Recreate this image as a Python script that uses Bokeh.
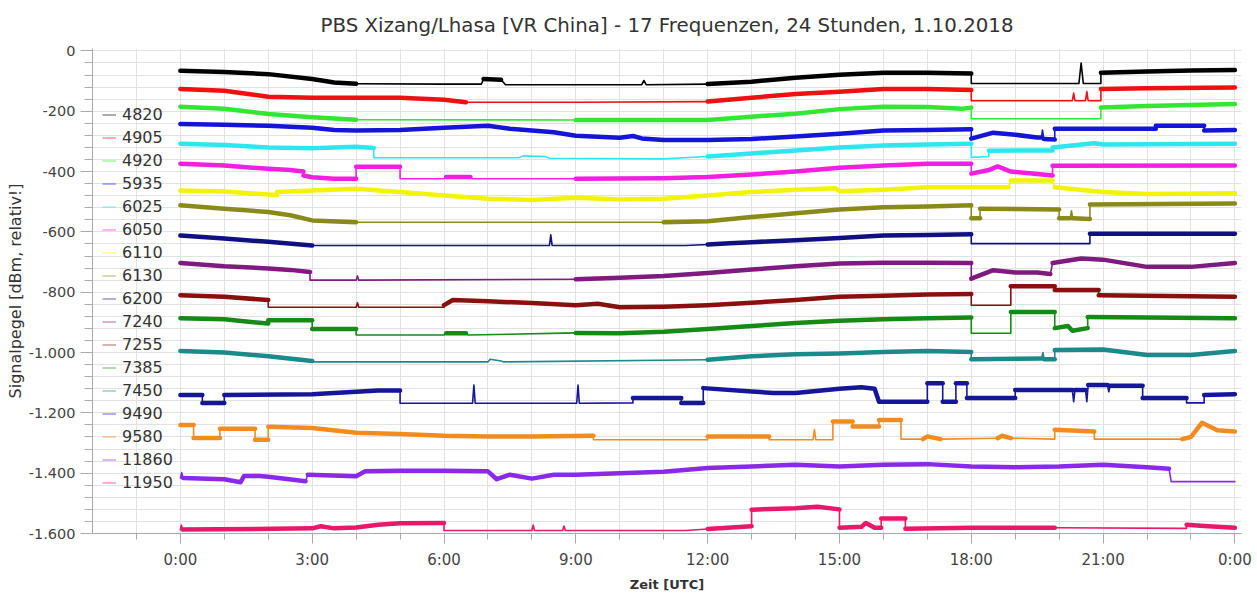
from bokeh.plotting import figure
from bokeh.models import Range1d, FixedTicker, Legend, LegendItem, ColumnDataSource
from bokeh.embed import file_html
from bokeh.resources import INLINE

# ---------------- data (hours UTC, relative dBm) ----------------
FREQS = ["4820", "4905", "4920", "5935", "6025", "6050", "6110", "6130", "6200",
         "7240", "7255", "7385", "7450", "9490", "9580", "11860", "11950"]

P_4820 = [(0,-66),(1,-70),(2,-77),(3,-93),(3.5,-105),(4,-109),(6,-110),(6.85,-110),(6.9,-93),(7.3,-96),(7.4,-112),
          (10.5,-112),(10.55,-98),(10.6,-112),(12,-110),(13,-102),(14,-89),(15,-79),(16,-72),(17,-72),(18,-75),
          (18,-108),(20.45,-108),(20.5,-40),(20.55,-108),(20.95,-108),(20.95,-72),(22,-68),(23,-65),(24,-63)]
W_4820 = [(5,6.9),(7.3,12),(18,20.95)]

P_4905 = [(0,-126),(1,-132),(1.5,-142),(2,-152),(3,-155),(5,-155),(6,-162),(6.5,-170),(9,-170),(12,-168),(13,-155),
          (14,-143),(15,-135),(16,-126),(17,-126),(18,-130),(18,-165),(20.3,-165),(20.33,-140),(20.36,-165),
          (20.6,-165),(20.63,-135),(20.66,-165),(20.95,-165),(20.95,-126),(22,-124),(24,-121)]
W_4905 = [(6.5,11.5),(18,20.95)]

P_4920 = [(0,-185),(1,-192),(2,-209),(3,-220),(4,-228),(9,-229),(12,-229),(13,-218),(14,-208),(15,-193),(16,-185),
          (17,-186),(17.8,-192),(18,-188),(18,-225),(20.95,-225),(20.95,-188),(22,-183),(24,-176)]
W_4920 = [(4.5,9),(18,20.95)]

P_5935 = [(0,-242),(1,-245),(2,-248),(3,-255),(3.5,-262),(4,-264),(5,-262),(6,-255),(7,-248),(7.5,-258),(8,-264),
          (8.5,-270),(9,-281),(10,-288),(10.3,-282),(10.5,-290),(11,-295),(12,-295),(13,-292),(14,-284),(15,-275),
          (16,-264),(17,-262),(18,-260),(18,-291),(18.5,-271),(19,-278),(19.5,-287),(19.6,-287),(19.62,-262),
          (19.65,-292),(19.9,-294),(19.9,-258),(22.2,-258),(22.2,-248),(23.3,-248),(23.3,-264),(24,-262)]
W_5935 = []

P_6025 = [(0,-308),(1,-312),(2,-320),(3,-323),(4,-318),(4.4,-322),(4.4,-354),(7.7,-354),(7.8,-348),(8.3,-350),
          (8.4,-356),(11,-358),(12,-350),(13,-340),(14,-330),(15,-320),(16,-314),(17,-310),(18,-308),(18,-353),
          (18.4,-350),(18.4,-331),(19.85,-330),(19.85,-320),(20.8,-306),(21,-310),(24,-308)]
W_6025 = [(4.4,12),(18,18.4)]

P_6050 = [(0,-374),(1,-380),(2,-391),(2.5,-395),(2.8,-400),(2.8,-413),(3,-419),(3.5,-424),(4,-424),(4,-384),(5,-384),
          (5,-424),(6,-424),(6.05,-418),(6.6,-418),(6.65,-424),(9,-424),(11,-422),(12,-418),(13,-410),(14,-400),
          (15,-387),(16,-380),(17,-374),(18,-374),(18,-407),(18.4,-395),(18.6,-383),(18.9,-400),(19.5,-408),
          (19.85,-413),(19.85,-381),(24,-380)]
W_6050 = [(5,6.05),(6.6,9.5)]

P_6110 = [(0,-463),(1,-466),(2,-476),(2.2,-478),(2.2,-468),(3,-463),(4,-457),(5,-468),(6,-479),(7,-490),(8,-494),
          (9,-487),(10,-493),(11,-490),(12,-479),(13,-468),(14,-460),(14.9,-455),(15,-465),(16,-460),(17,-452),
          (18,-452),(18.85,-452),(18.9,-430),(19.85,-430),(19.9,-452),(21,-468),(22,-474),(24,-472)]
W_6110 = []

P_6130 = [(0,-512),(1,-523),(2,-534),(2.5,-545),(3,-562),(4,-568),(11,-568),(12,-565),(13,-551),(14,-538),(15,-526),
          (16,-518),(17,-516),(18,-512),(18,-555),(18.2,-555),(18.2,-523),(20,-526),(20,-555),(20.25,-555),
          (20.28,-530),(20.31,-555),(20.7,-557),(20.7,-509),(24,-506)]
W_6130 = [(4,11)]

P_6200 = [(0,-612),(1,-622),(2,-633),(3,-645),(8.4,-645),(8.43,-610),(8.46,-645),(11.5,-645),(12,-642),(12.5,-638),
          (13,-634),(14,-628),(15,-620),(16,-612),(17,-610),(18,-608),(18,-639),(20.7,-639),(20.7,-606),(24,-606)]
W_6200 = [(3,12.2),(18,20.7)]

P_7240 = [(0,-703),(1,-714),(2,-721),(2.5,-726),(2.95,-733),(2.95,-760),(4,-760),(4.03,-746),(4.06,-760),(9,-757),
          (10,-752),(11,-746),(12,-736),(13,-725),(14,-714),(15,-705),(16,-702),(17,-702),(18,-703),(18,-755),
          (18.5,-727),(19,-735),(19.5,-735),(19.8,-740),(19.85,-703),(20.5,-688),(21,-692),(22,-716),(23,-716),(24,-703)]
W_7240 = [(2.95,9)]

P_7255 = [(0,-810),(1,-815),(2,-826),(2,-850),(4,-850),(4.03,-835),(4.06,-850),(6,-850),(6,-843),(6.2,-826),(7,-830),
          (8,-836),(9,-843),(9.5,-838),(10,-850),(11,-848),(12,-843),(13,-835),(14,-826),(15,-815),(16,-812),
          (17,-808),(18,-806),(18,-843),(18.9,-843),(18.9,-780),(19.9,-780),(19.9,-793),(20.9,-793),(20.9,-810),(24,-815)]
W_7255 = [(2,6),(18,18.9)]

P_7385 = [(0,-886),(1,-890),(2,-904),(2,-893),(3,-893),(3,-922),(4,-922),(4,-942),(6,-942),(6.05,-936),(6.5,-936),
          (6.55,-942),(9,-935),(10,-936),(11,-931),(12,-922),(13,-912),(14,-902),(15,-895),(16,-890),(17,-886),
          (18,-884),(18,-936),(18.9,-936),(18.9,-866),(19.9,-866),(19.9,-919),(20.2,-912),(20.3,-928),(20.65,-919),
          (20.65,-882),(24,-886)]
W_7385 = [(4,6.05),(6.5,9),(18,18.9)]

P_7450 = [(0,-995),(1,-1000),(2,-1012),(3,-1028),(3,-1031),(7,-1031),(7.05,-1022),(7.3,-1028),(7.35,-1031),
          (12,-1024),(13,-1012),(14,-1006),(15,-1003),(16,-998),(17,-995),(18,-998),(18,-1022),(19.6,-1020),
          (19.63,-1000),(19.66,-1022),(19.9,-1022),(19.9,-992),(21,-990),(22,-1008),(23,-1008),(24,-995)]
W_7450 = [(3,11)]

P_9490 = [(0,-1141),(0.5,-1141),(0.5,-1167),(1,-1167),(1,-1141),(3,-1138),(4,-1130),(4.5,-1126),(5,-1126),(5,-1168),
          (6.65,-1168),(6.68,-1108),(6.71,-1168),(9.02,-1168),(9.05,-1108),(9.08,-1168),(10.3,-1167),(10.3,-1151),
          (11.4,-1151),(11.4,-1167),(11.9,-1167),(11.9,-1118),(13,-1129),(13.5,-1134),(14,-1134),(15,-1120),
          (15.5,-1115),(15.8,-1120),(15.9,-1163),(17,-1163),(17,-1102),(17.35,-1102),(17.35,-1163),(17.65,-1163),
          (17.65,-1102),(17.9,-1102),(17.9,-1151),(19,-1151),(19,-1124),(20.3,-1124),(20.33,-1163),(20.36,-1124),
          (20.6,-1124),(20.63,-1163),(20.66,-1108),(21.1,-1108),(21.13,-1130),(21.16,-1110),(21.9,-1110),
          (21.9,-1151),(22.9,-1151),(22.9,-1167),(23.3,-1167),(23.3,-1141),(24,-1138)]
W_9490 = [(5,10.3),(22.9,23.3)]

P_9580 = [(0,-1240),(0.3,-1240),(0.3,-1283),(0.9,-1283),(0.9,-1253),(1.7,-1253),(1.7,-1289),(2,-1289),(2,-1246),
          (3,-1250),(4,-1266),(5,-1270),(6,-1276),(7,-1278),(8,-1278),(9.4,-1276),(9.4,-1289),(12,-1289),(12,-1278),
          (13.4,-1278),(13.4,-1289),(14.4,-1289),(14.43,-1255),(14.46,-1289),(14.85,-1289),(14.85,-1229),
          (15.3,-1229),(15.3,-1245),(15.9,-1245),(15.9,-1224),(16.4,-1224),(16.4,-1287),(16.9,-1287),(17,-1278),
          (17.3,-1287),(18.6,-1284),(18.7,-1276),(18.9,-1284),(19.9,-1287),(19.9,-1256),(20.8,-1262),(20.8,-1287),
          (22.8,-1287),(23,-1280),(23.25,-1233),(23.6,-1258),(24,-1262)]
W_9580 = [(9.4,12),(13.4,14.85),(16.4,16.9),(17.3,18),(19,19.9),(20.8,22.8)]

P_11860 = [(0,-1416),(0.03,-1398),(0.06,-1416),(1,-1420),(1.37,-1430),(1.45,-1409),(1.8,-1409),(2,-1412),
           (2.85,-1427),(2.9,-1405),(4,-1410),(4.2,-1394),(5,-1392),(6,-1392),(7,-1394),(7.2,-1420),(7.5,-1405),
           (8,-1418),(8.5,-1405),(9,-1405),(10,-1400),(11,-1395),(12,-1383),(13,-1378),(14,-1372),(15,-1378),
           (16,-1372),(17,-1370),(18,-1378),(19,-1380),(20,-1378),(21,-1372),(22,-1380),(22.5,-1385),
           (22.55,-1428),(24,-1428)]
W_11860 = [(22.55,24)]

P_11950 = [(0,-1587),(0.02,-1572),(0.05,-1587),(3,-1583),(3.2,-1576),(3.5,-1583),(4,-1580),(4.5,-1571),(5,-1566),
           (6,-1565),(6,-1590),(8.0,-1590),(8.03,-1572),(8.06,-1590),(8.7,-1590),(8.73,-1575),(8.76,-1590),
           (11.5,-1590),(12,-1585),(13,-1576),(13,-1521),(14,-1516),(14.5,-1511),(15,-1520),(15,-1581),(15.5,-1578),
           (15.6,-1565),(15.8,-1581),(15.95,-1581),(15.95,-1550),(16.5,-1550),(16.5,-1584),(18,-1581),(19.9,-1581),
           (22.9,-1583),(22.9,-1571),(23.3,-1575),(24,-1581)]
W_11950 = [(6,12),(19.9,22.9)]

SERIES = [P_4820, P_4905, P_4920, P_5935, P_6025, P_6050, P_6110, P_6130, P_6200,
          P_7240, P_7255, P_7385, P_7450, P_9490, P_9580, P_11860, P_11950]
WEAK = [W_4820, W_4905, W_4920, W_5935, W_6025, W_6050, W_6110, W_6130, W_6200,
        W_7240, W_7255, W_7385, W_7450, W_9490, W_9580, W_11860, W_11950]

COLORS = ["#000000", "#ee1111", "#33e633", "#1515d8", "#2ee6ee", "#f020e0", "#f2f20a", "#8a8a1a", "#101080",
          "#7e1a80", "#8a1010", "#158a15", "#1a8a8a", "#16169a", "#f28c20", "#8a2ae8", "#e8186a"]

Y_TICKS = list(range(-1600, 1, 200))
Y_LABELS = ["-1.600", "-1.400", "-1.200", "-1.000", "-800", "-600", "-400", "-200", "0"]
X_TICKS = list(range(0, 25, 3))
X_LABELS = ["0:00", "3:00", "6:00", "9:00", "12:00", "15:00", "18:00", "21:00", "0:00"]

TITLE = "PBS Xizang/Lhasa [VR China] - 17 Frequenzen, 24 Stunden, 1.10.2018"
X_TITLE = "Zeit [UTC]"
Y_TITLE = "Signalpegel [dBm, relativ!]"

# ---------------- figure ----------------
FONT = "DejaVu Sans"
p = figure(width=1257, height=594, output_backend="svg", toolbar_location=None,
           x_range=Range1d(-2, 24.15), y_range=Range1d(-1600, 8),
           min_border_left=92, min_border_right=16, min_border_top=47, min_border_bottom=60)
p.outline_line_color = None
p.background_fill_color = "white"

p.title.text = TITLE
p.title.align = "center"
p.title.text_font = FONT
p.title.text_font_size = "19.8px"
p.title.text_font_style = "normal"
p.title.text_color = "#333333"
p.title.standoff = 23

# grids
p.xgrid.ticker = FixedTicker(ticks=list(range(-1, 25)))
p.ygrid.ticker = FixedTicker(ticks=list(range(-1600, 1, 40)))
for g in (p.xgrid, p.ygrid):
    g.grid_line_color = "#e2e2e2"
    g.grid_line_width = 1

# axes
p.xaxis.ticker = FixedTicker(ticks=X_TICKS, minor_ticks=list(range(-1, 25)))
p.xaxis.major_label_overrides = dict(zip(X_TICKS, X_LABELS))
p.yaxis.ticker = FixedTicker(ticks=Y_TICKS, minor_ticks=list(range(-1600, 1, 40)))
p.yaxis.major_label_overrides = dict(zip(Y_TICKS, Y_LABELS))
p.xaxis.axis_label = X_TITLE
p.yaxis.axis_label = Y_TITLE
for ax in (p.xaxis, p.yaxis):
    ax.axis_line_color = "#aaaaaa"
    ax.major_tick_line_color = "#aaaaaa"
    ax.minor_tick_line_color = "#aaaaaa"
    ax.major_tick_in = 0
    ax.minor_tick_in = 0
    ax.major_label_text_font = FONT
    ax.major_label_text_color = "#444444"
    ax.axis_label_text_font = FONT
    ax.axis_label_text_color = "#333333"
p.xaxis.major_tick_out = 10
p.xaxis.minor_tick_out = 6
p.xaxis.major_label_standoff = 7
p.xaxis.major_label_text_font_size = "15px"
p.xaxis.axis_label_standoff = 5
p.xaxis.axis_label_text_font_size = "13px"
p.xaxis.axis_label_text_font_style = "bold"
p.yaxis.major_tick_out = 12
p.yaxis.minor_tick_out = 8
p.yaxis.major_label_standoff = 5
p.yaxis.major_label_text_font_size = "14.5px"
p.yaxis.axis_label_standoff = 1
p.yaxis.axis_label_text_font_size = "16px"
p.yaxis.axis_label_text_font_style = "normal"

STRONG_W = 4.5
WEAK_W = 1.6


def runs_of(points, weak):
    runs = []
    for i in range(len(points) - 1):
        (t0, v0), (t1, v1) = points[i], points[i + 1]
        m = (t0 + t1) / 2
        strong = (t1 - t0) >= 0.06 and not any(a <= m < b for a, b in weak)
        if runs and runs[-1][2] == strong:
            runs[-1][0].append(t1)
            runs[-1][1].append(v1)
        else:
            runs.append(([t0, t1], [v0, v1], strong))
    return runs


items = []
for freq, pts, wk, col in zip(FREQS, SERIES, WEAK, COLORS):
    rs = runs_of(pts, wk)
    src = ColumnDataSource(dict(xs=[r[0] for r in rs], ys=[r[1] for r in rs],
                                w=[STRONG_W if r[2] else WEAK_W for r in rs]))
    p.multi_line("xs", "ys", line_width="w", line_color=col, source=src,
                 line_join="round", line_cap="round")
    swatch = p.line(x=[float("nan")], y=[float("nan")], line_color=col, line_width=1.2, line_alpha=0.55)
    items.append(LegendItem(label=freq, renderers=[swatch]))

legend = Legend(items=items, location=(10, 40), padding=0, margin=0, spacing=2,
                glyph_height=21, label_height=21, glyph_width=14, label_standoff=6,
                background_fill_alpha=0, border_line_alpha=0,
                label_text_font=FONT, label_text_font_size="16px", label_text_color="#333333")
p.add_layout(legend)

open("out.html", "w").write(file_html(p, INLINE))
